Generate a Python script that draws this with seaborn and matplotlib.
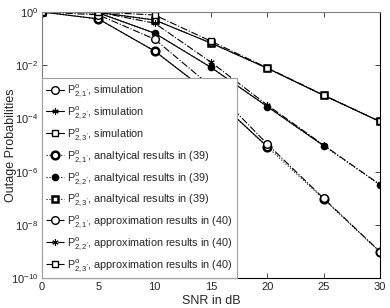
import matplotlib
matplotlib.use("Agg")
import matplotlib.pyplot as plt
import seaborn as sns
import numpy as np
from matplotlib.lines import Line2D

snr = [0, 5, 10, 15, 20, 25, 30]

# simulation (stops where the simulation runs out of events)
sim_21 = [1.0, 0.55, 0.034, 8e-4, 8.7e-6]
sim_22 = [1.0, 0.93, 0.16, 8.3e-3, 2.8e-4, 9.5e-6]
sim_23 = [1.0, 0.97, 0.50, 0.068, 7.7e-3, 7.4e-4, 7.7e-5]

# analytical results in (39)
ana_21 = [1.0, 0.55, 0.034, 8e-4, 8.7e-6, 9.5e-8, 9.5e-10]
ana_22 = [1.0, 0.93, 0.16, 8.3e-3, 2.8e-4, 9.5e-6, 3.2e-7]
ana_23 = [1.0, 0.97, 0.50, 0.068, 7.7e-3, 7.4e-4, 7.7e-5]

# approximation results in (40)
app_21 = [1.0, 0.78, 0.095, 1.6e-3, 1.1e-5, 1.0e-7, 1.0e-9]
app_22 = [1.0, 0.98, 0.38, 0.013, 3.2e-4, 1.0e-5, 3.3e-7]
app_23 = [1.0, 1.0, 0.77, 0.08, 8e-3, 7.6e-4, 7.7e-5]

names = [r"$\mathrm{P}^{\mathrm{o}}_{2,1'}$", r"$\mathrm{P}^{\mathrm{o}}_{2,2'}$",
         r"$\mathrm{P}^{\mathrm{o}}_{2,3'}$"]

sns.set_style("ticks")
plt.rcParams['font.family'] = ['Liberation Sans', 'DejaVu Sans']
plt.rcParams['mathtext.fontset'] = 'custom'
plt.rcParams['mathtext.rm'] = 'Liberation Sans'
plt.rcParams['mathtext.it'] = 'Liberation Sans:italic'

fig = plt.figure(figsize=(3.9, 3.08), dpi=100)
ax = fig.add_axes([0.108, 0.097, 0.866, 0.864])

star = (6, 2, 0)
series = [
    (sim_21, "-", "o", 1.0, "white", "simulation"),
    (sim_22, "-", star, 0.8, "black", "simulation"),
    (sim_23, "-", "s", 1.0, "white", "simulation"),
    (ana_21, ":", "o", 1.8, "white", "analtyical results in (39)"),
    (ana_22, ":", "o", 1.0, "black", "analtyical results in (39)"),
    (ana_23, ":", "s", 1.8, "white", "analtyical results in (39)"),
    (app_21, "-.", "o", 1.0, "white", "approximation results in (40)"),
    (app_22, "-.", star, 0.8, "black", "approximation results in (40)"),
    (app_23, "-.", "s", 1.0, "white", "approximation results in (40)"),
]

handles = []
for i, (vals, ls, mk, mew, mfc, txt) in enumerate(series):
    ms = 5 if mk == "s" else 5.5
    if mk == "o" and mfc == "black":
        ms = 4.5
    if mk == star:
        ms = 4.5
    sns.lineplot(x=snr[:len(vals)], y=vals, ax=ax, color="black", linestyle=ls,
                 linewidth=0.8, marker=mk, markersize=ms, markerfacecolor=mfc,
                 markeredgecolor="black", markeredgewidth=mew)
    handles.append(Line2D([], [], color="black", linestyle=ls, linewidth=0.8,
                          marker=mk, markersize=ms, markerfacecolor=mfc,
                          markeredgecolor="black", markeredgewidth=mew,
                          label=names[i % 3] + ", " + txt))

ax.set_yscale("log")
ax.set_xlim(0, 30)
ax.set_ylim(1e-10, 1)
ax.set_xticks([0, 5, 10, 15, 20, 25, 30])
ax.set_yticks([1e-10, 1e-8, 1e-6, 1e-4, 1e-2, 1])
ax.yaxis.set_minor_locator(matplotlib.ticker.NullLocator())
ax.tick_params(direction="in", top=True, right=True, length=3.5, width=0.6,
               labelsize=8, pad=3)
for side in ["left", "top"]:
    ax.spines[side].set_color("#808080")
for side in ["right", "bottom"]:
    ax.spines[side].set_color("black")
for sp in ax.spines.values():
    sp.set_linewidth(0.8)

ax.set_xlabel("SNR in dB", fontsize=9, labelpad=2)
ax.set_ylabel("Outage Probabilities", fontsize=9)
ax.yaxis.set_label_coords(-0.075, 0.5)

leg = ax.legend(handles=handles, loc="lower left", bbox_to_anchor=(0, 0),
                borderaxespad=0, fontsize=7.8, handlelength=1.6, handletextpad=0.3,
                labelspacing=0.45, borderpad=0.4, fancybox=False, framealpha=1)
leg.get_frame().set_edgecolor("#a0a0a0")
leg.get_frame().set_linewidth(0.8)

fig.savefig("out.png", dpi=100)
